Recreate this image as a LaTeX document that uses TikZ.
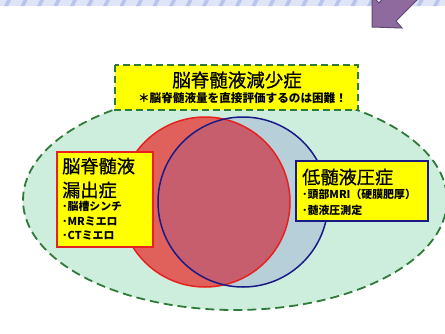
\documentclass[tikz,border=0pt]{standalone}
\usepackage{fontspec}
\newfontfamily\cjk{Noto Sans CJK JP}
\newfontfamily\cjkheavy[FakeBold=0.7]{Noto Sans CJK JP}
\definecolor{stripebg}{HTML}{DFE4F7}
\definecolor{stripefg}{HTML}{BAC3EA}
\definecolor{arrowfill}{HTML}{8E6A9E}
\definecolor{arrowline}{HTML}{5E4870}
\definecolor{ellfill}{HTML}{CDEEDC}
\definecolor{ellline}{HTML}{2F7A3A}
\definecolor{redfill}{HTML}{E0605C}
\definecolor{redline}{HTML}{E8201E}
\definecolor{bluefill}{HTML}{B6CFD8}
\definecolor{overlapfill}{HTML}{C65E6E}
\definecolor{blueline}{HTML}{1A1A86}
\definecolor{boxyellow}{HTML}{FFFF00}
\begin{document}
\begin{tikzpicture}[x=1pt,y=-1pt,
  txt/.style={inner sep=0pt,anchor=west,font=\cjk},
  bigtxt/.style={txt,font=\cjkheavy\fontsize{18.2}{20}\selectfont},
  smalltxt/.style={txt,font=\cjk\bfseries\fontsize{10.9}{12}\selectfont},
  dashgreen/.style={draw=ellline,line width=1.8pt,dash pattern=on 9pt off 5pt}]
\useasboundingbox (0,0) rectangle (445,333);
\fill[white] (0,0) rectangle (445,333);
% big ellipse
\fill[ellfill] (235,200) ellipse [x radius=212, y radius=110];
\draw[dashgreen] (235,200) ellipse [x radius=212, y radius=110];
% circles
\fill[redfill] (205,202) circle (85);
\begin{scope}
  \clip (205,202) circle (85);
  \fill[overlapfill] (243,202) circle (85);
\end{scope}
\begin{scope}[even odd rule]
  \clip (243,202) circle (85) (205,202) circle (85);
  \fill[bluefill] (243,202) circle (85);
\end{scope}
\draw[redline,line width=1.5pt] (205,202) circle (85);
\draw[blueline,line width=1.5pt] (243,202) circle (85);
% title box
\draw[dashgreen,fill=boxyellow,dash pattern=on 7pt off 4pt] (115,65) rectangle (358,110);
\node[txt,font=\cjkheavy\fontsize{18.5}{20}\selectfont,anchor=center] (title) at (237,80) {脳脊髄液減少症};
\node[txt,font=\cjk\bfseries\fontsize{11.6}{13}\selectfont,anchor=center] (sub) at (242.5,98) {＊脳脊髄液量を直接評価するのは困難！};
% left box
\draw[redline,line width=1.8pt,fill=boxyellow] (57,152) rectangle (153,247);
\node[bigtxt] (l1) at (62,166) {脳脊髄液};
\node[bigtxt] (l2) at (62,190) {漏出症};
\node[smalltxt] (l3) at (62,206) {･脳槽シンチ};
\node[smalltxt] (l4) at (62,221) {･MRミエロ};
\node[smalltxt] (l5) at (62,235) {･CTミエロ};
% right box
\draw[blueline,line width=1.8pt,fill=boxyellow] (296,161) rectangle (428,221);
\node[bigtxt] (r1) at (302,177) {低髄液圧症};
\node[smalltxt] (r2) at (302,194) {･頭部MRI（硬膜肥厚）};
\node[smalltxt] (r3) at (302,210) {･髄液圧測定};
% top stripe
\fill[stripebg] (0,0) rectangle (445,6);
\foreach \i in {0,...,27} {
  \fill[stripefg] ({\i*16.5+4},6) -- ({\i*16.5+8},6) -- ({\i*16.5+11},0) -- ({\i*16.5+7},0) -- cycle;
}
% arrow
\draw[arrowline,fill=arrowfill,line width=1pt,line join=miter]
  (372,27) -- (402,28) -- (396,21) -- (424,-7) -- (388,-7) -- (379,3) -- (372,-4) -- cycle;
\end{tikzpicture}
\end{document}
